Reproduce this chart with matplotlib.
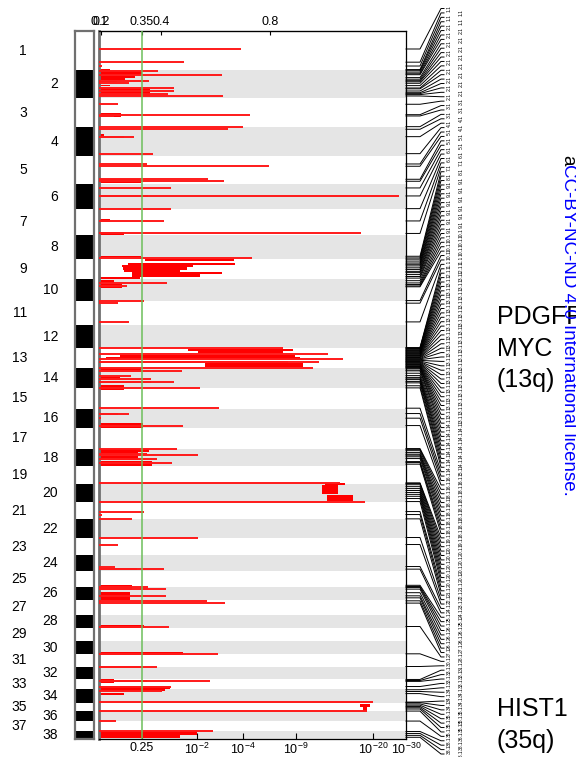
import numpy as np
import matplotlib.pyplot as plt

plt.rcParams['font.family'] = ['Liberation Sans', 'DejaVu Sans']
plt.rcParams['mathtext.default'] = 'regular'

# dog chromosome lengths (Mb)
chrom_len = [122.7, 85.4, 91.9, 88.3, 88.9, 77.6, 80.9, 74.1, 61.1, 69.3,
             74.4, 72.5, 63.2, 61.0, 64.2, 59.6, 64.3, 55.8, 53.7, 58.1,
             50.9, 61.4, 52.3, 47.7, 51.6, 39.0, 46.0, 41.2, 41.8, 40.2,
             39.8, 38.8, 31.4, 42.1, 26.5, 30.8, 30.9, 23.9]

# thin peak lines: genome position (Mb) and score (axis fraction)
line_mb = [56, 97, 109, 123.5, 136, 154.6, 162.7, 177.3, 186.7, 195, 202.2,
           228, 260.4, 264.4, 297.7, 305.8, 328.8, 381.7, 413.8, 420.9,
           461.4, 467.6, 488.4, 513.3, 552.8, 591.1, 630, 706.2,
           784, 793.3, 839, 847, 905.3, 985.3, 1004, 1021.3, 1028.8, 1047.5,
           1057.7, 1072.4, 1082.6, 1091, 1110.6, 1173.8, 1190.5, 1204.9, 1227.9,
           1299.5, 1317, 1320, 1330.6, 1343, 1406.2, 1464.4, 1495.5, 1504.8,
           1518.2, 1576.3, 1598.1, 1666.6, 1674.7, 1728.8, 1736.9, 1757.7,
           1773.3, 1780.4, 1853.2, 1938.2, 1977.7, 2021.3, 2040, 2055.4,
           2088.4, 2116.4, 2147.5, 2179.9]
line_score = [0.462, 0.277, 0.01, 0.192, 0.40, 0.163, 0.098, 0.244, 0.244, 0.224, 0.403,
              0.062, 0.492, 0.049, 0.469, 0.419, 0.114, 0.176, 0.156, 0.554,
              0.354, 0.407, 0.234, 0.976, 0.234, 0.212, 0.855, 0.497,
              0.221, 0.09, 0.148, 0.063, 0.099, 0.598, 0.746, 0.796, 0.716, 0.698,
              0.269, 0.103, 0.168, 0.245, 0.33, 0.391, 0.098, 0.007, 0.274,
              0.253, 0.155, 0.321, 0.188, 0.237, 0.785, 0.866, 0.148, 0.01,
              0.107, 0.321, 0.063, 0.051, 0.212, 0.161, 0.217, 0.217,
              0.351, 0.41, 0.229, 0.387, 0.188, 0.362, 0.234, 0.204,
              0.894, 0.872, 0.055, 0.37]

# filled regions: top/bottom (Mb), left/right score
fill_top = [118.2, 126, 141.5, 147.8, 157.1, 168, 174.2, 256, 320.4, 326.7,
            459.5, 510.2, 586.4, 626.9, 700, 708.4, 720.8, 727, 735.1, 743.5,
            748.8, 756, 764.3, 775.6, 788, 990.2, 992.4, 1008, 1013.2, 1025.7,
            1033.8, 1048.4, 1076.4, 1087.9, 1101.3, 1187.5, 1220.4, 1301.3,
            1308.8, 1322.2, 1336.8, 1407.1, 1413.3, 1444.4, 1671.6, 1723.5,
            1744.3, 1847.9, 1932.8, 1974.6, 2016.9, 2019, 2037.7, 2047, 2060.4,
            2094.6, 2103.9, 2177.7, 2190.1]
fill_bot = [131.6, 138.4, 147.8, 152.4, 160.2, 172.7, 203.8, 267.5, 326.7, 333.8,
            471.9, 516.4, 595.8, 634.6, 704, 714.6, 727, 735.1, 743.5, 748.8,
            756, 764.3, 770.6, 784, 800.5, 994.6, 1002.7, 1013.2, 1020.4, 1031.9,
            1046.3, 1059.9, 1085.7, 1096, 1116.8, 1193.7, 1236, 1308.8,
            1319, 1334.6, 1353.3, 1413.3, 1441.3, 1463.1, 1677.8, 1738.1,
            1770.2, 1857.2, 1943.4, 1980.8, 2028.4, 2025.2, 2047, 2055.4, 2065.7,
            2103.9, 2116.3, 2190.1, 2201]
fill_left = [0, 0, 0, 0, 0, 0, 0, 0, 0, 0,
             0, 0, 0, 0, 0, 0.15, 0.094, 0.075, 0.078, 0.081,
             0.107, 0.107, 0, 0, 0, 0.29, 0.322, 0.068, 0.023, 0,
             0.345, 0, 0, 0, 0, 0, 0, 0,
             0, 0, 0, 0.736, 0.725, 0.744, 0, 0,
             0, 0, 0, 0, 0, 0, 0, 0, 0,
             0.85, 0.86, 0, 0]
fill_right = [0.036, 0.139, 0.117, 0.085, 0.059, 0.036, 0.166, 0.071, 0.016, 0.081,
              0.137, 0.16, 0.036, 0.081, 0.136, 0.44, 0.443, 0.306, 0.287, 0.264,
              0.40, 0.329, 0.134, 0.049, 0.074, 0.631, 0.598, 0.638, 0.655, 0.615,
              0.664, 0.137, 0.068, 0.169, 0.082, 0.063, 0.144, 0.164,
              0.127, 0.126, 0.172, 0.801, 0.78, 0.828, 0.123, 0.107,
              0.101, 0.148, 0.273, 0.137, 0.049, 0.155, 0.231, 0.215, 0.082,
              0.883, 0.873, 0.318, 0.264]

# extra peak positions inside broad regions (Mb)
peak_extra_mb = [120, 128, 133, 145, 150, 158, 170, 180, 192, 198,
                 701, 710, 716, 722, 726, 731, 737, 742, 748, 752, 758, 764, 769,
                 777, 789, 796,
                 986, 988, 990, 992, 994, 996, 998, 1000, 1002, 1006, 1008, 1010,
                 1012, 1014, 1016, 1018, 1020, 1023, 1025, 1027, 1030, 1032, 1034,
                 1036, 1038, 1040, 1042, 1044, 1046,
                 1050, 1055, 1065, 1078, 1085, 1095, 1104,
                 1302, 1306, 1312, 1325, 1340, 1348,
                 1408, 1412, 1418, 1424, 1430, 1436, 1442, 1448, 1455,
                 1725, 1732, 1748, 1764,
                 2018, 2024, 2050, 2062,
                 2090, 2094, 2098, 2102, 2106, 2110,
                 2186, 2192, 2198]

top_tick_pos = [0.0, 0.008, 0.14, 0.202, 0.557]
top_tick_lab = ['0.1', '0.2', '0.35', '0.4', '0.8']
bot_tick_pos = [0.14, 0.319, 0.469, 0.642, 0.893, 1.0]
bot_tick_lab = ['0.25', '$10^{-2}$', '$10^{-4}$', '$10^{-9}$', '$10^{-20}$', '$10^{-30}$']
q_cut = 0.14

starts = np.concatenate([[0], np.cumsum(chrom_len)[:-1]])
total = float(np.sum(chrom_len))

fig = plt.figure(figsize=(5.76, 7.57), dpi=100)
W, H = 576, 757
def box(x0, y0, x1, y1):
    return [x0 / W, 1 - y1 / H, (x1 - x0) / W, (y1 - y0) / H]

ax = fig.add_axes(box(99, 31, 406, 739))
ax_id = fig.add_axes(box(75, 31, 94, 739))
ax_r = fig.add_axes(box(406, 31, 480, 739))

# background stripes, ideogram and chromosome numbers
for i, (s, l) in enumerate(zip(starts, chrom_len)):
    if i % 2 == 1:
        ax.axhspan(s, s + l, color='#e5e5e5', lw=0, zorder=0)
    ax_id.barh(s + l / 2, 1, height=l, left=0,
               color='black' if i % 2 == 1 else 'white', lw=0)
    fig.text((58 if i % 2 == 1 else 27) / W, 1 - (31 + (s + l / 2) * 708 / total) / H,
             str(i + 1), ha='right', va='center', fontsize=10)

ax.barh([(t + b) / 2 for t, b in zip(fill_top, fill_bot)],
        [r - l for l, r in zip(fill_left, fill_right)],
        height=[b - t for t, b in zip(fill_top, fill_bot)],
        left=fill_left, color='red', lw=0, zorder=2)
ax.hlines(line_mb, 0, line_score, color='#ff1a1a', lw=1.4, zorder=3)
ax.axvline(q_cut, color='#6cbf5a', lw=1.1, zorder=4)

ax.set_xlim(0, 1)
ax.set_ylim(total, 0)
ax.set_yticks([])
ax.set_xticks(bot_tick_pos)
ax.set_xticklabels(bot_tick_lab, fontsize=9)
ax.tick_params(axis='x', direction='in', length=4, pad=2)
sec = ax.secondary_xaxis('top')
sec.set_xticks(top_tick_pos)
sec.set_xticklabels(top_tick_lab, fontsize=9)
sec.tick_params(direction='in', length=3, pad=2)
ax.spines['left'].set_color('#707070')
ax.spines['left'].set_linewidth(2)
for sp in ['top', 'right', 'bottom']:
    ax.spines[sp].set_linewidth(0.9)

ax_id.set_xlim(0, 1)
ax_id.set_ylim(total, 0)
ax_id.set_xticks([])
ax_id.set_yticks([])
for sp in ax_id.spines.values():
    sp.set_color('#707070')
    sp.set_linewidth(1.6)

# connectors to peak labels
peaks = sorted(line_mb + peak_extra_mb)
n = len(peaks)
lab_y = np.linspace(-70, 2250, n)
ax_r.set_xlim(0, 74)
ax_r.set_ylim(total, 0)
ax_r.axis('off')
for i, (p, ly) in enumerate(zip(peaks, lab_y)):
    c = int(np.searchsorted(starts, p, side='right'))
    ax_r.plot([0, 14, 35, 38], [p, p, ly, ly], color='black', lw=0.7, clip_on=False)
    ax_r.text(41 if i % 2 == 0 else 53, ly, f"{c}.1", rotation=90, fontsize=3.6,
              ha='left', va='center', clip_on=False)

fig.text(497 / W, 1 - 317 / H, 'PDGFRA', fontsize=18, va='center')
fig.text(497 / W, 1 - 349 / H, 'MYC', fontsize=18, va='center')
fig.text(497 / W, 1 - 380 / H, '(13q)', fontsize=18, va='center')
fig.text(497 / W, 1 - 709 / H, 'HIST1', fontsize=18, va='center')
fig.text(497 / W, 1 - 741 / H, '(35q)', fontsize=18, va='center')
fig.text(568 / W, 1 - 155 / H, 'a', rotation=-90, color='black', fontsize=13.5,
         ha='center', va='top')
fig.text(568 / W, 1 - 164 / H, 'CC-BY-NC-ND 4.0 International license.', rotation=-90,
         color='blue', fontsize=13.5, ha='center', va='top')

fig.savefig('out.png', dpi=100)
